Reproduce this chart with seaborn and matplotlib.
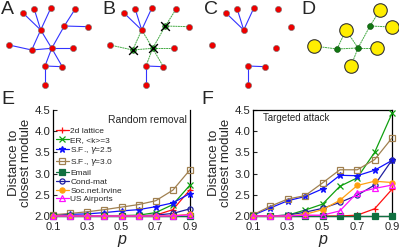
import matplotlib
matplotlib.use("Agg")
import matplotlib.pyplot as plt
import seaborn as sns
import pandas as pd

# ---- network sketch (panels A-C share one layout, in panel pixel units)
node_x = [23.3, 34.3, 50.7, 75.0, 64.3, 88.3, 40.7, 9.0, 31.7, 51.7, 72.7, 45.0, 62.3, 45.0]
node_y = [13.3, 9.3, 8.3, 9.3, 26.0, 26.7, 30.0, 45.0, 50.0, 48.3, 48.3, 66.0, 66.7, 85.0]
edges = [(0, 6), (1, 6), (2, 6), (6, 8), (6, 9), (3, 4), (4, 5), (4, 9), (7, 8),
         (8, 9), (9, 10), (9, 11), (9, 12), (11, 12), (11, 13)]
removed = [4, 8, 9]

# panel D: modules (big) and removed nodes (small)
mod_x = [80, 92, 46, 14, 77, 51]
mod_y = [10, 27, 30, 46, 48, 66]
rem_x = [70, 37, 58]
rem_y = [26, 49, 48]
d_edges = [("r", 0, "m", 0), ("r", 0, "m", 1), ("r", 0, "r", 2), ("r", 2, "m", 2),
           ("r", 2, "m", 4), ("r", 2, "m", 5), ("r", 2, "r", 1), ("r", 1, "m", 3),
           ("r", 1, "m", 2)]

# ---- robustness curves
p = [0.1, 0.2, 0.3, 0.4, 0.5, 0.6, 0.7, 0.8, 0.9]
labels = ["2d lattice", "ER, <k>=3", "S.F., $\\gamma$=2.5", "S.F., $\\gamma$=3.0",
          "Email", "Cond-mat", "Soc.net.Irvine", "US Airports"]
random_removal = [
    [2.0, 2.0, 2.0, 2.0, 2.0, 2.0, 2.02, 2.15, 2.62],
    [2.0, 2.0, 2.0, 2.01, 2.01, 2.02, 2.08, 2.27, 2.73],
    [2.02, 2.04, 2.05, 2.08, 2.12, 2.15, 2.22, 2.31, 2.53],
    [2.03, 2.06, 2.1, 2.15, 2.21, 2.27, 2.36, 2.61, 3.09],
    [2.0, 2.0, 2.0, 2.0, 2.0, 2.0, 2.0, 2.0, 2.0],
    [2.0, 2.0, 2.0, 2.0, 2.0, 2.0, 2.02, 2.06, 2.17],
    [2.0, 2.0, 2.0, 2.0, 2.0, 2.0, 2.0, 2.01, 2.04],
    [2.0, 2.0, 2.0, 2.0, 2.0, 2.0, 2.0, 2.0, 2.03],
]
targeted_attack = [
    [2.0, 2.0, 2.0, 2.0, 2.0, 2.0, 2.02, 2.17, 2.63],
    [2.0, 2.0, 2.02, 2.14, 2.28, 2.7, 2.9, 3.5, 4.42],
    [2.02, 2.19, 2.36, 2.46, 2.64, 2.96, 2.95, 3.08, 3.31],
    [2.03, 2.23, 2.4, 2.48, 2.78, 3.09, 3.09, 3.33, 3.84],
    [2.0, 2.0, 2.0, 2.0, 2.0, 2.0, 2.0, 2.0, 2.0],
    [2.0, 2.0, 2.02, 2.09, 2.18, 2.32, 2.49, 2.73, 3.32],
    [2.0, 2.0, 2.0, 2.04, 2.15, 2.37, 2.72, 2.82, 2.79],
    [2.0, 2.0, 2.0, 2.02, 2.02, 2.12, 2.55, 2.65, 2.73],
]
colors = ["#ff1010", "#10a010", "#1010ff", "#a08050", "#107040", "#2020a0", "#ffa010", "#ff10ff"]
markers = ["+", "x", "*", "s", "s", "o", "o", "^"]
filled = [True, True, True, False, True, False, True, False]

sns.set_style("ticks")
plt.rcParams["font.family"] = ["Liberation Sans", "DejaVu Sans"]

fig = plt.figure(figsize=(3.99, 2.5), dpi=100)

W, H = 399.0, 250.0


def top_axes(left_px):
    ax = fig.add_axes([left_px / W, 1 - 90 / H, 100 / W, 90 / H])
    ax.set_xlim(0, 100)
    ax.set_ylim(90, 0)
    ax.axis("off")
    return ax


red_kw = dict(s=20, color="#ee0000", edgecolor="#777777", linewidth=0.4, zorder=3, legend=False)
blue_edge = dict(color="#3333ff", lw=0.8, zorder=1)
green_edge = dict(color="#44aa44", lw=0.7, ls=(0, (2, 0.6)), zorder=1)

# A
axA = top_axes(0)
for a, b in edges:
    axA.plot([node_x[a], node_x[b]], [node_y[a], node_y[b]], **blue_edge)
sns.scatterplot(x=node_x, y=node_y, ax=axA, **red_kw)

# B
axB = top_axes(101)
for a, b in edges:
    kw = green_edge if (a in removed or b in removed) else blue_edge
    axB.plot([node_x[a], node_x[b]], [node_y[a], node_y[b]], **kw)
keep = [i for i in range(len(node_x)) if i not in removed]
sns.scatterplot(x=[node_x[i] for i in keep], y=[node_y[i] for i in keep], ax=axB, **red_kw)
rx = [node_x[i] for i in removed]
ry = [node_y[i] for i in removed]
sns.scatterplot(x=rx, y=ry, ax=axB, s=16, color="#22aa22", edgecolor="#115511",
                linewidth=0.4, zorder=4, legend=False)
axB.scatter(rx, ry, s=40, marker="x", color="black", linewidths=1.0, zorder=5)

# C
axC = top_axes(203)
for a, b in edges:
    if a in removed or b in removed:
        continue
    axC.plot([node_x[a], node_x[b]], [node_y[a], node_y[b]], **blue_edge)
sns.scatterplot(x=[node_x[i] for i in keep], y=[node_y[i] for i in keep], ax=axC, **red_kw)

# D
axD = top_axes(300)
pos = {"m": (mod_x, mod_y), "r": (rem_x, rem_y)}
for t1, i1, t2, i2 in d_edges:
    axD.plot([pos[t1][0][i1], pos[t2][0][i2]], [pos[t1][1][i1], pos[t2][1][i2]], **green_edge)
sns.scatterplot(x=mod_x, y=mod_y, ax=axD, s=95, color="#ffee00", edgecolor="#333333",
                linewidth=0.8, zorder=3, legend=False)
sns.scatterplot(x=rem_x, y=rem_y, ax=axD, s=18, color="#117711", edgecolor="#0a4a0a",
                linewidth=0.4, zorder=4, legend=False)

for ax, letter in zip([axA, axB, axC, axD], "ABCD"):
    ax.text(1, 1, letter, fontsize=14, va="top", ha="left", transform=ax.transData)

# ---- E and F
axE = fig.add_axes([53 / W, 34 / H, 137 / W, 106 / H])
axF = fig.add_axes([253 / W, 34 / H, 139 / W, 106 / H])

for ax, data in [(axE, random_removal), (axF, targeted_attack)]:
    for i, ys in enumerate(data):
        df = pd.DataFrame({"p": p, "d": ys})
        mkw = dict(mfc=colors[i] if filled[i] else "none", mec=colors[i])
        ms = 5 if markers[i] in "+x*" else 3.7
        sns.lineplot(data=df, x="p", y="d", ax=ax, color=colors[i], marker=markers[i],
                     markersize=ms, markeredgewidth=0.9, lw=0.9, label=labels[i],
                     clip_on=False, zorder=3, **mkw)
    ax.set_xlim(0.1, 0.9)
    ax.set_ylim(2.0, 4.5)
    ax.set_xticks([0.1, 0.3, 0.5, 0.7, 0.9])
    ax.set_xticks([0.2, 0.4, 0.6, 0.8], minor=True)
    ax.set_yticks([2.0, 2.5, 3.0, 3.5, 4.0, 4.5])
    ax.set_xticklabels(["0.1", "0.3", "0.5", "0.7", "0.9"])
    ax.tick_params(direction="in", labelsize=8.2, length=3, width=0.8, pad=2)
    ax.tick_params(axis="x", pad=4.5, labelsize=8)
    ax.tick_params(which="minor", direction="in", length=2, width=0.8)
    ax.set_xlabel("p", fontsize=11.5, style="italic", labelpad=0)
    ax.set_ylabel("Distance to\nclosest module", fontsize=9.5, labelpad=2, linespacing=1.0)
    for s in ax.spines.values():
        s.set_linewidth(0.9)
        s.set_color("black")

axE.spines["top"].set_visible(False)
axF.get_legend().remove()
axE.legend(loc="upper left", bbox_to_anchor=(0.0, 0.86), frameon=False, fontsize=6,
           handlelength=1.6, handletextpad=0.2, labelspacing=0.12, borderpad=0.1,
           borderaxespad=0.2)
axE.text(0.98, 0.95, "Random removal", transform=axE.transAxes, ha="right", va="top", fontsize=7.5)
axF.text(0.07, 0.97, "Targeted attack", transform=axF.transAxes, ha="left", va="top", fontsize=7)

fig.text(1 / W, 1 - 91 / H, "E", fontsize=14, va="top", ha="left")
fig.text(201 / W, 1 - 91 / H, "F", fontsize=14, va="top", ha="left")

fig.savefig("out.png", dpi=100)
